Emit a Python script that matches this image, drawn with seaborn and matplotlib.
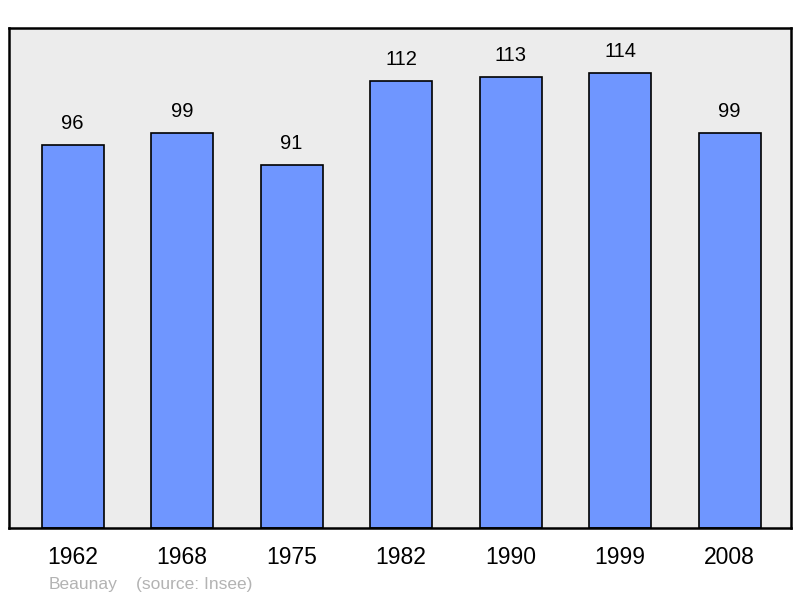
import matplotlib
matplotlib.use("Agg")
import matplotlib.pyplot as plt
import seaborn as sns
import pandas as pd

years = ["1962", "1968", "1975", "1982", "1990", "1999", "2008"]
population = [96, 99, 91, 112, 113, 114, 99]

df = pd.DataFrame({"year": years, "pop": population})

sns.set_style("white")
plt.rcParams["font.family"] = ["Liberation Sans", "DejaVu Sans"]
plt.rcParams["text.color"] = "black"
plt.rcParams["xtick.color"] = "black"

fig = plt.figure(figsize=(8, 5.98), dpi=100)
ax = fig.add_axes([8.5 / 800, 70 / 598, 782.5 / 800, 500.5 / 598])
ax.set_facecolor("#ececec")

sns.barplot(data=df, x="year", y="pop", color="#6f96ff", saturation=1,
            width=0.567, edgecolor="black", linewidth=1.2, ax=ax)

for i, v in enumerate(population):
    ax.annotate(str(v), (i, v), xytext=(0, 9), textcoords="offset points",
                ha="center", va="bottom", fontsize=14.5)

ax.set_xlim(-0.585, 6.56)
ax.set_ylim(0, 125.5)
ax.set_yticks([])
ax.set_xlabel("")
ax.set_ylabel("")
ax.tick_params(axis="x", length=0, labelsize=16.5, pad=13)
for s in ax.spines.values():
    s.set_color("black")
    s.set_linewidth(1.8)

fig.text(49 / 800, 1 - 584 / 598, "Beaunay", color="#b3b3b3", fontsize=12.5, va="center")
fig.text(136 / 800, 1 - 584 / 598, "(source: Insee)", color="#b3b3b3", fontsize=12.5, va="center")

fig.savefig("out.png", dpi=100)
